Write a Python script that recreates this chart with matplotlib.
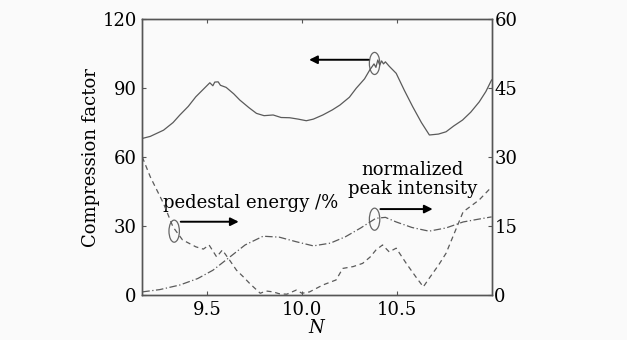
import numpy as np
import matplotlib.pyplot as plt
from matplotlib.patches import Ellipse

plt.rcParams['font.family'] = ['DejaVu Serif']
plt.rcParams['mathtext.fontset'] = 'dejavuserif'

# compression factor (left axis)
n_cf = [9.158, 9.20, 9.27, 9.32, 9.356, 9.40, 9.44, 9.48, 9.514, 9.53, 9.54, 9.558, 9.57,
        9.60, 9.64, 9.672, 9.72, 9.76, 9.80, 9.848, 9.89, 9.935, 9.98, 10.023, 10.06,
        10.11, 10.16, 10.2, 10.25, 10.286, 10.33, 10.357, 10.38, 10.39, 10.40, 10.41,
        10.42, 10.43, 10.44, 10.46, 10.497, 10.54, 10.584, 10.63, 10.672, 10.72, 10.76,
        10.80, 10.847, 10.89, 10.935, 10.97, 11.0]
cf = [68.1, 69.0, 71.7, 75.0, 78.3, 82.0, 86.2, 89.5, 92.3, 91.0, 92.6, 92.7, 91.2,
      90.3, 87.5, 84.8, 81.5, 79.0, 78.0, 78.3, 77.2, 77.1, 76.5, 75.8, 76.5,
      78.3, 80.5, 82.6, 86.0, 89.9, 94.0, 97.8, 100.5, 99.0, 102.2, 100.0,
      101.8, 100.5, 101.4, 99.5, 96.4, 89.0, 81.9, 75.0, 69.6, 70.0, 71.0,
      73.5, 76.1, 79.5, 84.0, 88.5, 93.5]

# normalized peak intensity (right axis)
n_pi = [9.158, 9.25, 9.356, 9.45, 9.53, 9.62, 9.70, 9.795, 9.88, 9.97, 10.06, 10.15,
        10.23, 10.31, 10.39, 10.44, 10.497, 10.58, 10.67, 10.76, 10.85, 10.93, 11.0]
pi = [0.7, 1.2, 2.2, 3.6, 5.4, 8.3, 10.9, 12.8, 12.6, 11.6, 10.7, 11.3,
      12.7, 14.6, 16.7, 16.9, 15.9, 14.7, 13.9, 14.6, 15.9, 16.5, 17.0]

# pedestal energy /% (right axis)
n_pe = [9.158, 9.2, 9.27, 9.32, 9.37, 9.44, 9.48, 9.51, 9.55, 9.58, 9.62, 9.655,
        9.69, 9.725, 9.78, 9.81, 9.848, 9.88, 9.92, 9.97, 10.0, 10.04, 10.11, 10.18,
        10.215, 10.27, 10.32, 10.36, 10.39, 10.425, 10.46, 10.497, 10.55, 10.6,
        10.64, 10.67, 10.72, 10.76, 10.81, 10.85, 10.935, 11.0]
pe = [30.0, 25.7, 19.9, 14.8, 12.0, 10.5, 10.0, 10.9, 8.3, 9.8, 7.5, 5.4,
      4.0, 2.5, 0.4, 0.9, 0.7, 0.3, 0.2, 1.1, 0.4, 0.7, 2.2, 3.3,
      5.8, 6.2, 6.9, 8.3, 9.8, 10.9, 9.4, 10.2, 6.9, 4.0,
      1.8, 3.6, 6.5, 9.1, 14.1, 18.1, 20.7, 23.5]

xticks = [9.5, 10.0, 10.5]
yticks_l = [0, 30, 60, 90, 120]
yticks_r = [0, 15, 30, 45, 60]

bg = '#fafafa'
lc = '#5a5a5a'
fig = plt.figure(figsize=(6.27, 3.4), dpi=100, facecolor=bg)
ax = fig.add_axes([0.227, 0.132, 0.557, 0.812])
ax.set_facecolor(bg)
ax2 = ax.twinx()

ax.plot(n_cf, cf, color=lc, lw=0.9)
ax2.plot(n_pi, pi, color=lc, lw=0.9, ls=(0, (6, 2, 1, 2)))
ax2.plot(n_pe, pe, color=lc, lw=0.9, ls=(0, (4, 3)))

ax.set_xlim(9.158, 11.0)
ax.set_ylim(0, 120)
ax2.set_ylim(0, 60)
ax.set_xticks(xticks)
ax.set_xticklabels(['%.1f' % v for v in xticks])
ax.set_yticks(yticks_l)
ax2.set_yticks(yticks_r)

fs = 13
ax.tick_params(direction='in', length=3, width=0.8, labelsize=fs, top=True,
               color='#555555', pad=4)
ax2.tick_params(direction='in', length=3, width=0.8, labelsize=fs,
                color='#555555', pad=2)
for a in (ax, ax2):
    for s in a.spines.values():
        s.set_color('#555555')
        s.set_linewidth(1.0)

ax.set_ylabel('Compression factor', fontsize=fs, labelpad=2)
ax.set_xlabel('$N$', fontsize=fs, labelpad=0)

# annotations
ec = '#666666'
for cx, cy in [(10.383, 100.7), (9.326, 27.8), (10.383, 33.0)]:
    ax.add_patch(Ellipse((cx, cy), 0.055, 9.6, fill=False, ec=ec, lw=0.9))
arrow = dict(arrowstyle='-|>', color='black', lw=1.4, mutation_scale=12)
ax.annotate('', xy=(10.023, 102.3), xytext=(10.366, 102.3), arrowprops=arrow)
ax.annotate('', xy=(9.681, 31.9), xytext=(9.346, 31.9), arrowprops=arrow)
ax.annotate('', xy=(10.704, 37.4), xytext=(10.399, 37.4), arrowprops=arrow)

ax.text(9.268, 40.0, 'pedestal energy /%', fontsize=fs, ha='left', va='center')
ax.text(10.583, 50.4, 'normalized\npeak intensity', fontsize=fs, ha='center',
        va='center', linespacing=1.05)

fig.savefig('out.png', dpi=100, facecolor=bg)
